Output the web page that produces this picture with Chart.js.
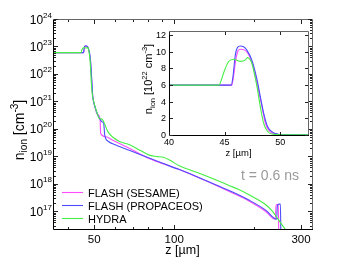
<!DOCTYPE html>
<html>
<head>
<meta charset="utf-8">
<script src="https://cdn.jsdelivr.net/npm/chart.js@4.4.0/dist/chart.umd.min.js"></script>
<style>
  html, body { margin: 0; padding: 0; background: #fff; }
  #wrap { position: relative; width: 346px; height: 260px; }
  #main { position: absolute; left: 0; top: 0; }
  #inset { position: absolute; left: 140px; top: 20px; }
</style>
</head>
<body>
<div id="wrap">
  <canvas id="main" width="346" height="260"></canvas>
  <canvas id="inset" width="180" height="140"></canvas>
</div>
<script>
// ── data: main log-log plot (z in µm, n_ion in cm^-3) ─────────────────────
const seriesNames = ["FLASH (SESAME)", "FLASH (PROPACEOS)", "HYDRA"];

const zSesame = [35, 45.65, 45.9, 46.1, 46.4, 47.1, 47.5, 47.9, 48.35, 48.65, 48.9, 49.2, 49.5, 50.3, 51.3, 52.6, 52.9,
  55.3, 58.5, 68, 80, 90, 104, 125, 144, 165, 191, 221, 240, 241.5, 242.5, 246.5, 247.5];
const nSesame = [6.0e22, 6.0e22, 8.0e22, 9.8e22, 1.03e23, 9.8e22, 8.6e22, 6.3e22, 3.5e22, 1.5e22, 6e21, 2.2e21, 1.3e21, 6.5e20, 3.5e20, 2.4e20, 6.9e19,
  5.2e19, 4.0e19, 1.95e19, 8.7e18, 5.6e18, 3.4e18, 1.6e18, 8.8e17, 4.8e17, 2.4e17, 1.0e17, 5.2e16, 1.5e17, 1.8e17, 1.8e17, 1e16];

const zPropaceos = [35, 45.6, 45.85, 46.15, 46.4, 47.0, 47.45, 47.9, 48.2, 48.5, 48.8, 49.1, 49.4, 50.0, 50.8, 52.2, 53.6, 54.3, 54.8,
  56.6, 60, 70, 80, 90, 104, 125, 144, 165, 191, 221, 243, 244.5, 247.5, 251, 252];
const nPropaceos = [6.0e22, 6.0e22, 8.5e22, 1.04e23, 1.07e23, 1.02e23, 9.0e22, 6.75e22, 4.7e22, 2.7e22, 1.06e22, 4e21, 1.5e21, 8e20, 4.9e20, 2.5e20, 1.8e20, 1.6e20, 6e19,
  3.5e19, 2.65e19, 1.48e19, 8.9e18, 5.75e18, 3.4e18, 1.66e18, 9.1e17, 5.2e17, 2.6e17, 1.12e17, 5.2e16, 1.6e17, 1.85e17, 1.85e17, 1e16];

const zHydra = [35, 44.6, 44.95, 45.35, 45.8, 46.4, 46.85, 47.05, 47.45, 47.9, 48.25, 48.5, 48.8, 49.2, 49.7, 50.8, 52.2, 53.7,
  56.3, 58.5, 62, 68, 75, 80.5, 86, 91, 96, 105, 120, 144, 160, 175, 192, 205, 221, 234.5, 244.7, 255, 264];
const nHydra = [6.0e22, 6.0e22, 7.6e22, 8.8e22, 9.1e22, 8.85e22, 9.0e22, 9.3e22, 8.6e22, 5.9e22, 3.1e22, 1.46e22, 4.5e21, 1.8e21, 1.1e21, 5e20, 2.5e20, 2.2e20,
  8e19, 5.2e19, 3.6e19, 2.65e19, 1.6e19, 1.12e19, 1.0e19, 9.3e18, 7.4e18, 4.5e18, 2.8e18, 1.4e18, 9e17, 6.3e17, 4e17, 2.8e17, 1.75e17, 1.0e17, 5.6e16, 3.2e16, 2e16];

const xMajorTicks = [50, 100, 300];
const xMinorTicks = [40, 60, 70, 80, 90, 200];
const yTickExps   = [17, 18, 19, 20, 21, 22, 23, 24];

// ── data: inset, linear (n_ion in 10^22 cm^-3) ─────────────────────────────
const zInSesame = [40, 45.65, 45.8, 46.0, 46.2, 46.4, 46.8, 47.1, 47.5, 47.9, 48.35, 48.65, 48.95, 49.25, 49.7, 50.4, 52.5];
const nInSesame = [6.0, 6.0, 7.0, 9.0, 10.1, 10.3, 10.2, 9.8, 8.6, 6.3, 3.5, 1.5, 0.6, 0.25, 0.08, 0.03, 0.02];

const zInPropaceos = [40, 45.6, 45.75, 45.95, 46.15, 46.4, 46.7, 47.0, 47.45, 47.9, 48.2, 48.5, 48.85, 49.3, 49.8, 50.5, 52.5];
const nInPropaceos = [6.0, 6.0, 7.0, 9.5, 10.5, 10.7, 10.6, 10.2, 9.0, 6.75, 4.7, 2.7, 1.06, 0.35, 0.1, 0.04, 0.02];

const zInHydra = [40, 44.5, 44.7, 44.95, 45.35, 45.8, 46.4, 46.85, 47.05, 47.45, 47.9, 48.25, 48.5, 48.85, 49.4, 50.5, 52.5];
const nInHydra = [6.0, 6.0, 6.6, 7.6, 8.8, 9.1, 8.85, 9.0, 9.3, 8.6, 5.9, 3.1, 1.46, 0.45, 0.08, 0.02, 0.02];

const insetXTicks = [40, 45, 50];
const insetYTicks = [0, 2, 4, 6, 8, 10, 12];

// ── styling ────────────────────────────────────────────────────────────────
const FONT   = '"Liberation Sans", Arial, Helvetica, sans-serif';
const COLORS = ["#ff4dff", "#4d4dff", "#44ee44"];

const pts = (xs, ys) => xs.map((x, i) => ({ x, y: ys[i] }));

function makeSets(list) {
  return list.map(([xs, ys], i) => ({
    label: seriesNames[i], data: pts(xs, ys),
    borderColor: COLORS[i], backgroundColor: COLORS[i],
    borderWidth: 1.1, pointRadius: 0, fill: false,
    cubicInterpolationMode: "monotone", order: 3 - i
  }));
}

// text with sub/superscripts: parts = [[text, size, dy], ...]
function rich(ctx, parts, x, y, align) {
  let w = 0;
  parts.forEach(p => { ctx.font = p[1] + "px " + FONT; w += ctx.measureText(p[0]).width; });
  let cx = align === "center" ? x - w / 2 : align === "right" ? x - w : x;
  ctx.textAlign = "left";
  parts.forEach(p => {
    ctx.font = p[1] + "px " + FONT;
    ctx.fillText(p[0], cx, y + (p[2] || 0));
    cx += ctx.measureText(p[0]).width;
  });
}

function frame(ctx, a) {
  ctx.lineWidth = 1;
  ctx.strokeStyle = "#000";
  ctx.beginPath();
  ctx.moveTo(a.left + 0.5, a.top); ctx.lineTo(a.left + 0.5, a.bottom + 0.5); ctx.lineTo(a.right + 1, a.bottom + 0.5);
  ctx.stroke();
  ctx.strokeStyle = "#666";
  ctx.beginPath();
  ctx.moveTo(a.left, a.top + 0.5); ctx.lineTo(a.right + 0.5, a.top + 0.5); ctx.lineTo(a.right + 0.5, a.bottom);
  ctx.stroke();
}

function ticks(ctx, chart, xs, ys, len) {
  const a = chart.chartArea, sx = chart.scales.x, sy = chart.scales.y;
  ctx.beginPath();
  xs.forEach(v => {
    const p = Math.round(sx.getPixelForValue(v)) + 0.5;
    ctx.moveTo(p, a.bottom); ctx.lineTo(p, a.bottom - len);
    ctx.moveTo(p, a.top + 1); ctx.lineTo(p, a.top + 1 + len);
  });
  ys.forEach(v => {
    const p = Math.round(sy.getPixelForValue(v)) + 0.5;
    ctx.moveTo(a.left + 1, p); ctx.lineTo(a.left + 1 + len, p);
    ctx.moveTo(a.right, p); ctx.lineTo(a.right - len, p);
  });
  ctx.stroke();
}

// ── main chart decorations ─────────────────────────────────────────────────
const mainDecor = {
  id: "mainDecor",
  beforeDraw(chart) {
    const { ctx, width, height } = chart;
    ctx.save(); ctx.fillStyle = "#fff"; ctx.fillRect(0, 0, width, height); ctx.restore();
  },
  afterDraw(chart) {
    const { ctx, chartArea: a, scales: { x, y } } = chart;
    ctx.save();
    frame(ctx, a);
    ctx.strokeStyle = "#222";
    const yMinor = [];
    for (let e = 16; e < 24; e++) for (let m = 2; m < 10; m++) {
      const v = m * Math.pow(10, e);
      if (v >= y.min && v <= y.max) yMinor.push(v);
    }
    ticks(ctx, chart, xMinorTicks, yMinor, 2);
    ticks(ctx, chart, xMajorTicks, yTickExps.map(e => Math.pow(10, e)), 4);

    ctx.fillStyle = "#000";
    ctx.textBaseline = "alphabetic";
    yTickExps.forEach(e => {
      const py = y.getPixelForValue(Math.pow(10, e));
      rich(ctx, [["10", 12, 0], [String(e), 8, -6]], a.left - 1, py + 4.5, "right");
    });
    xMajorTicks.forEach(v => {
      rich(ctx, [[String(v), 11.5, 0]], x.getPixelForValue(v), a.bottom + 14, "center");
    });

    // axis titles
    rich(ctx, [["z [\u00b5m]", 12.5, 0]], (a.left + a.right) / 2, a.bottom + 25, "center");
    ctx.save();
    ctx.translate(24, (a.top + a.bottom) / 2 + 6);
    ctx.rotate(-Math.PI / 2);
    rich(ctx, [["n", 14, 0], ["ion", 10, 3], [" [cm", 14, 0], ["-3", 10, -6], ["]", 14, 0]], 0, 0, "center");
    ctx.restore();

    // time stamp
    ctx.fillStyle = "#9a9a9a";
    rich(ctx, [["t = 0.6 ns", 14, 0]], 270, 180, "center");

    // legend
    ctx.fillStyle = "#000";
    chart.data.datasets.forEach((ds, i) => {
      const ly = 192 + i * 13 + 0.5;
      ctx.strokeStyle = ds.borderColor; ctx.lineWidth = 1.1;
      ctx.beginPath(); ctx.moveTo(62, ly); ctx.lineTo(83, ly); ctx.stroke();
      rich(ctx, [[ds.label, 11, 0]], 88, ly + 4, "left");
    });
    ctx.restore();
  }
};

new Chart(document.getElementById("main"), {
  type: "line",
  data: { datasets: makeSets([[zSesame, nSesame], [zPropaceos, nPropaceos], [zHydra, nHydra]]) },
  options: {
    responsive: false, animation: false, events: [],
    layout: { padding: { left: 53, right: 34, top: 19, bottom: 31 } },
    plugins: { legend: { display: false }, tooltip: { enabled: false } },
    scales: {
      x: { type: "logarithmic", min: 35, max: 330, display: false },
      y: { type: "logarithmic", min: 2.3e16, max: 1e24, display: false }
    }
  },
  plugins: [mainDecor]
});

// ── inset ──────────────────────────────────────────────────────────────────
const insetDecor = {
  id: "insetDecor",
  beforeDraw(chart) {
    const { ctx, chartArea: a } = chart;
    ctx.save(); ctx.fillStyle = "#fff"; ctx.fillRect(a.left, a.top, a.right - a.left, a.bottom - a.top); ctx.restore();
  },
  afterDraw(chart) {
    const { ctx, chartArea: a, scales: { x, y } } = chart;
    ctx.save();
    frame(ctx, a);
    ctx.strokeStyle = "#222";
    ticks(ctx, chart, insetXTicks, insetYTicks, 3);
    ctx.fillStyle = "#000";
    ctx.textBaseline = "alphabetic";
    insetYTicks.forEach(v => rich(ctx, [[String(v), 9, 0]], a.left - 3, y.getPixelForValue(v) + 3, "right"));
    insetXTicks.forEach(v => rich(ctx, [[String(v), 9, 0]], x.getPixelForValue(v), a.bottom + 10, "center"));
    rich(ctx, [["z [\u00b5m]", 9.5, 0]], (a.left + a.right) / 2, a.bottom + 21, "center");
    ctx.save();
    ctx.translate(12, (a.top + a.bottom) / 2 - 4);
    ctx.rotate(-Math.PI / 2);
    rich(ctx, [["n", 11, 0], ["ion", 7.5, 2.5], [" [10", 11, 0], ["22", 7.5, -5], [" cm", 11, 0], ["-3", 7.5, -5], ["]", 11, 0]], 0, 0, "center");
    ctx.restore();
    ctx.restore();
  }
};

new Chart(document.getElementById("inset"), {
  type: "line",
  data: { datasets: makeSets([[zInSesame, nInSesame], [zInPropaceos, nInPropaceos], [zInHydra, nInHydra]]) },
  options: {
    responsive: false, animation: false, events: [],
    layout: { padding: { left: 29, right: 12, top: 11, bottom: 25 } },
    plugins: { legend: { display: false }, tooltip: { enabled: false } },
    scales: {
      x: { type: "linear", min: 40, max: 52.5, display: false },
      y: { type: "linear", min: 0, max: 12.5, display: false }
    }
  },
  plugins: [insetDecor]
});
</script>
</body>
</html>
